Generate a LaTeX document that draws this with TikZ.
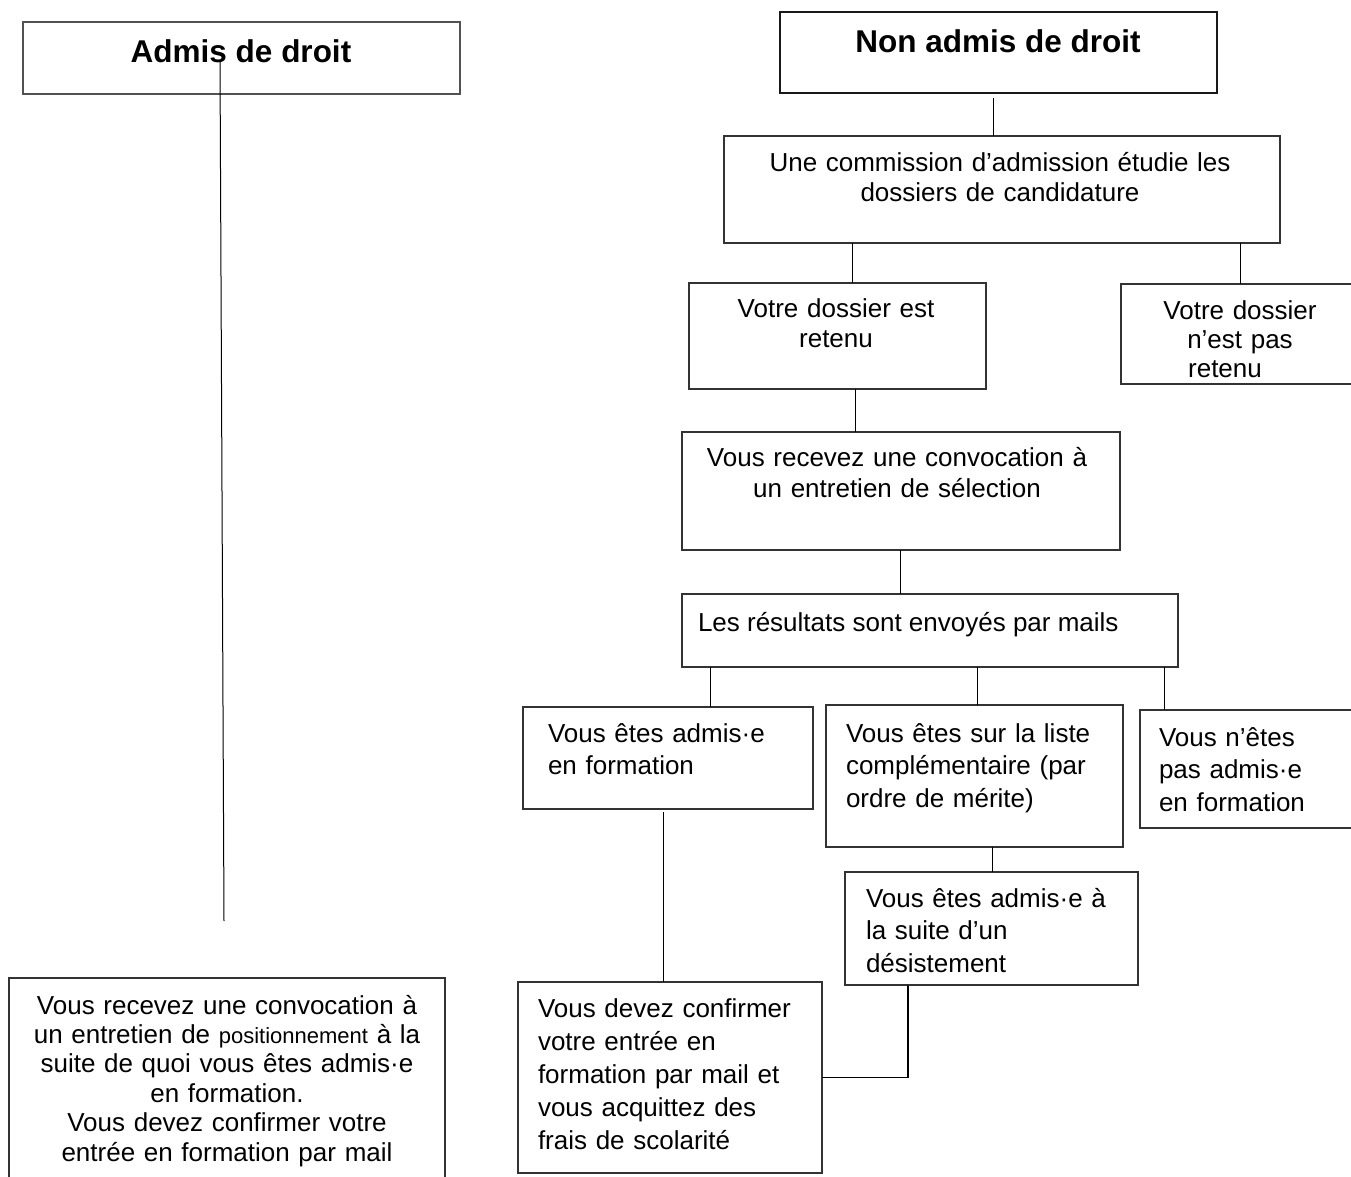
\documentclass[tikz,border=0pt]{standalone}
\usepackage{fontspec}
\setmainfont{Liberation Sans}
\begin{document}
\begin{tikzpicture}[x=1pt,y=-1pt,
  box/.style={draw=black!80,line width=1.3pt,inner sep=0pt,outer sep=0pt,anchor=north west},
  txt/.style={inner sep=0pt,outer sep=0pt,font=\fontsize{26}{#1}\selectfont},
  txt/.default=30,
  head/.style={inner sep=0pt,outer sep=0pt,font=\fontsize{31.5}{36}\selectfont\bfseries},
  link/.style={draw=black,line width=1pt}]
\useasboundingbox (0,0) rectangle (1351,1176);
\clip (0,0) rectangle (1351,1176);

% left column
\node[box,draw=black!68,line width=1.6pt,minimum width=437pt,minimum height=72pt] (admis) at (23,22) {};
\node[head,anchor=base] (admis-t) at (241,62) {Admis de droit};
\node[box,minimum width=436pt,minimum height=230pt] (posit) at (9,978) {};
\node[txt=29.4,text width=430pt,align=center,anchor=base] (posit-t) at (227,1014)
  {Vous recevez une convocation à\\un entretien de {\fontsize{22}{29.4}\selectfont positionnement} à la\\suite de quoi vous êtes admis·e\\en formation.\\Vous devez confirmer votre\\entrée en formation par mail};

% right column
\node[box,draw=black!90,minimum width=437pt,minimum height=81pt] (nonadmis) at (780,12) {};
\node[head,anchor=base] (nonadmis-t) at (998,52) {Non admis de droit};

\node[box,minimum width=556pt,minimum height=107pt] (comm) at (724,136) {};
\node[txt,text width=540pt,align=center,anchor=base] (comm-t) at (1000,171)
  {Une commission d’admission étudie les\\dossiers de candidature};

\node[box,minimum width=297pt,minimum height=106pt] (retenu) at (689,283) {};
\node[txt,text width=280pt,align=center,anchor=base] (retenu-t) at (836,317)
  {Votre dossier est\\retenu};

\node[box,minimum width=260pt,minimum height=100pt] (nonret) at (1121,284) {};
\node[txt=29,text width=220pt,align=center,anchor=base] (nonret-t) at (1240,319)
  {Votre dossier\\n’est pas\\retenu\hspace*{30pt}\mbox{}};

\node[box,minimum width=438pt,minimum height=118pt] (convoc) at (682,432) {};
\node[txt=31,text width=430pt,align=center,anchor=base] (convoc-t) at (897,466)
  {Vous recevez une convocation à\\un entretien de sélection};

\node[box,minimum width=496pt,minimum height=73pt] (result) at (682,594) {};
\node[txt,anchor=base west] (result-t) at (698,631) {Les résultats sont envoyés par mails};

\node[box,minimum width=290pt,minimum height=102pt] (admisf) at (523,707) {};
\node[txt=32,text width=260pt,align=left,anchor=base west] (admisf-t) at (548,742)
  {Vous êtes admis·e\\en formation};

\node[box,minimum width=297pt,minimum height=142pt] (liste) at (826,705) {};
\node[txt=32.5,text width=270pt,align=left,anchor=base west] (liste-t) at (846,742)
  {Vous êtes sur la liste\\complémentaire (par\\ordre de mérite)};

\node[box,minimum width=240pt,minimum height=118pt] (nonadmisf) at (1140,710) {};
\node[txt=32.5,text width=190pt,align=left,anchor=base west] (nonadmisf-t) at (1159,746)
  {Vous n’êtes\\pas admis·e\\en formation};

\node[box,minimum width=293pt,minimum height=113pt] (desist) at (845,872) {};
\node[txt=32.5,text width=270pt,align=left,anchor=base west] (desist-t) at (866,907)
  {Vous êtes admis·e à\\la suite d’un\\désistement};

\node[box,minimum width=304pt,minimum height=191pt] (confirm) at (518,982) {};
\node[txt=33,text width=280pt,align=left,anchor=base west] (confirm-t) at (538,1017)
  {Vous devez confirmer\\votre entrée en\\formation par mail et\\vous acquittez des\\frais de scolarité};

% connectors
\coordinate (a1) at (220,62);
\coordinate (a2) at (224,921);
\draw[link] (a1) -- (a2);
\coordinate (n1) at (993,98);
\draw[link] (n1) -- (n1 |- comm.north);
\draw[link] ([xshift=128pt]comm.south west) -- ([xshift=163pt]retenu.north west);
\draw[link] ([xshift=516pt]comm.south west) -- ([xshift=119pt]nonret.north west);
\draw[link] ([xshift=166pt]retenu.south west) -- ([xshift=173pt]convoc.north west);
\draw[link] ([xshift=218pt]convoc.south west) -- ([xshift=218pt]result.north west);
\draw[link] ([xshift=28pt]result.south west) -- ([xshift=187pt]admisf.north west);
\draw[link] ([xshift=295pt]result.south west) -- ([xshift=151pt]liste.north west);
\draw[link] ([xshift=482pt]result.south west) -- ([xshift=24pt]nonadmisf.north west);
\draw[link] ([xshift=140pt,yshift=-3pt]admisf.south west) -- ([xshift=145pt]confirm.north west);
\draw[link] ([xshift=166pt]liste.south west) -- ([xshift=147pt]desist.north west);
\draw[link,line width=1.3pt] ([xshift=63pt]desist.south west) |- (confirm.east);
\draw[black!80,line width=2.6pt] ([xshift=63pt]desist.south west) -- ([xshift=146pt]desist.south west);
\end{tikzpicture}
\end{document}
